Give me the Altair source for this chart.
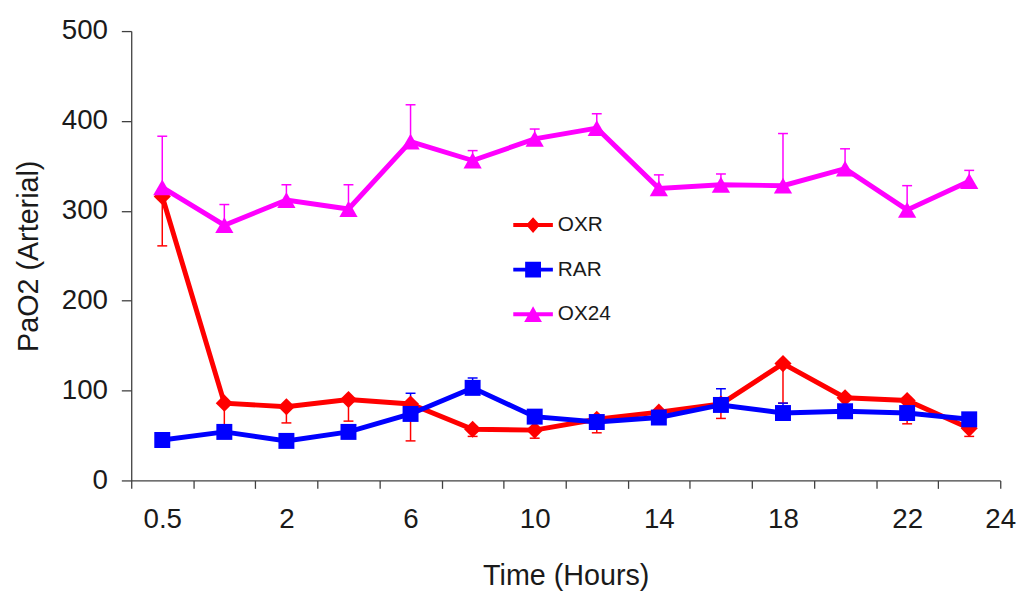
import altair as alt
import pandas as pd

# ---- data ----
hours = ["0.5", "1", "2", "4", "6", "8", "10", "12", "14", "16", "18", "20", "22", "24"]
series_names = ["OXR", "RAR", "OX24"]

oxr = [316, 86, 82, 90, 85, 57, 56, 68, 76, 85, 130, 92, 89, 58]
oxr_err_low = [261, 62, 64, 66, 44, 49, 47, 53, None, 69, 86, None, 63, 49]

rar = [45, 54, 44, 54, 74, 103, 71, 65, 70, 84, 75, 77, 75, 68]
rar_err_high = [None, None, None, None, 97, 114, None, None, None, 102, 86, None, None, None]

ox24 = [326, 284, 312, 302, 377, 356, 380, 392, 325, 329, 328, 347, 301, 333]
ox24_err_high = [383, 307, 329, 329, 418, 367, 391, 408, 340, 341, 386, 369, 328, 345]

x_tick_labels = ["0.5", "2", "6", "10", "14", "18", "22", "24"]
y_ticks = [0, 100, 200, 300, 400, 500]

# ---- styles ----
colors = ["#FF0000", "#0000FF", "#FF00FF"]
marker_shapes = ["diamond", "square", "triangle-up"]
marker_sizes = [300, 260, 340]
legend_paths = [
    "M-1,-0.1L-0.2625,-0.1L0,-0.4L0.2625,-0.1L1,-0.1L1,0.1L0.2625,0.1L0,0.4L-0.2625,0.1L-1,0.1Z",
    "M-1,-0.1L-0.4,-0.1L-0.4,-0.4L0.4,-0.4L0.4,-0.1L1,-0.1L1,0.1L0.4,0.1L0.4,0.4L-0.4,0.4L-0.4,0.1L-1,0.1Z",
    "M-1,-0.1L-0.169,-0.1L0,-0.4L0.169,-0.1L1,-0.1L1,0.1L0.281,0.1L0.45,0.4L-0.45,0.4L-0.281,0.1L-1,0.1Z",
]
FONT = "Liberation Sans"
AXIS_COLOR = "#404040"

# ---- tables ----
values = [oxr, rar, ox24]
errs = [oxr_err_low, rar_err_high, ox24_err_high]
rows, err_rows = [], []
for name, vals, ev in zip(series_names, values, errs):
    for i, (h, v, e) in enumerate(zip(hours, vals, ev)):
        rows.append({"series": name, "idx": i, "hour": h, "value": v})
        if e is not None:
            err_rows.append({"series": name, "idx": i, "value": v, "err": e})
df = pd.DataFrame(rows)
df_err = pd.DataFrame(err_rows)

n = len(hours)
boundaries = [i - 0.5 for i in range(n + 1)]
label_pos = [hours.index(lbl) for lbl in x_tick_labels[:-1]] + [n - 0.5]
axis_values = sorted(set(boundaries + label_pos))
pos_js = "[" + ",".join(str(p) for p in label_pos) + "]"
lbl_js = "[" + ",".join("'" + l + "'" for l in x_tick_labels) + "]"
label_expr = f"indexof({pos_js}, datum.value) >= 0 ? {lbl_js}[indexof({pos_js}, datum.value)] : ''"

x_scale = alt.Scale(domain=[-0.5, n - 0.5], nice=False, zero=False)
y_scale = alt.Scale(domain=[0, 500], nice=False)
color_scale = alt.Scale(domain=series_names, range=colors)

x_axis = alt.Axis(
    title="Time (Hours)", values=axis_values, labelExpr=label_expr,
    tickOpacity={"condition": {"test": "datum.value % 1 !== 0", "value": 1}, "value": 0},
    grid=False, labelOverlap=False, labelFlush=False, labelBound=False,
    tickSize=8, labelPadding=18, titlePadding=28,
)
y_axis = alt.Axis(
    title="PaO2 (Arterial)", values=y_ticks, grid=False,
    tickSize=10, labelPadding=14, titlePadding=18,
)

X = alt.X("idx:Q", scale=x_scale, axis=x_axis)
Y = alt.Y("value:Q", scale=y_scale, axis=y_axis)
COLOR = alt.Color("series:N", scale=color_scale)

legend_common = dict(
    title=None, orient="none", legendX=386, legendY=176, padding=0,
    symbolSize=1600, symbolStrokeWidth=0, symbolOpacity=1,
    labelFont=FONT, labelFontSize=21, labelColor="#1a1a1a", labelOffset=5,
    rowPadding=15,
)
# legend-only layer: no rows drawn, entries come from the explicit scale domains
legend_layer = alt.Chart(df).transform_filter("false").mark_point(filled=True, opacity=1).encode(
    x=X, y=Y,
    color=alt.Color("series:N", scale=color_scale, legend=alt.Legend(**legend_common)),
    shape=alt.Shape("series:N", scale=alt.Scale(domain=series_names, range=legend_paths),
                    legend=alt.Legend(**legend_common)),
)

err_rule = alt.Chart(df_err).mark_rule(strokeWidth=1.5, opacity=1).encode(
    x="idx:Q", y="value:Q", y2="err:Q", color=COLOR,
)
err_cap = alt.Chart(df_err).mark_tick(orient="horizontal", size=10, thickness=1.5, opacity=1).encode(
    x="idx:Q", y="err:Q", color=COLOR,
)
lines = alt.Chart(df).mark_line(strokeWidth=5).encode(
    x="idx:Q", y="value:Q", color=COLOR, order="idx:Q",
)
markers = []
for name, col, shp, sz in zip(series_names, colors, marker_shapes, marker_sizes):
    markers.append(
        alt.Chart(df).transform_filter(alt.datum.series == name).mark_point(
            shape=shp, filled=True, size=sz, color=col, opacity=1, strokeWidth=0
        ).encode(x="idx:Q", y="value:Q")
    )

chart = alt.layer(legend_layer, err_rule, err_cap, lines, *markers).properties(
    width=878, height=454,
    autosize=alt.AutoSizeParams(type="none"),
    padding={"left": 124.5, "top": 20.3, "right": 24, "bottom": 110},
).configure_view(stroke=None).configure_axis(
    labelFont=FONT, titleFont=FONT, labelFontSize=28, titleFontSize=29,
    titleFontWeight="normal", labelColor="#1a1a1a", titleColor="#1a1a1a",
    domainColor=AXIS_COLOR, tickColor=AXIS_COLOR, domainWidth=1.3, tickWidth=1.3,
)

chart.save("out.html", embed_options={"renderer": "svg", "actions": False})
